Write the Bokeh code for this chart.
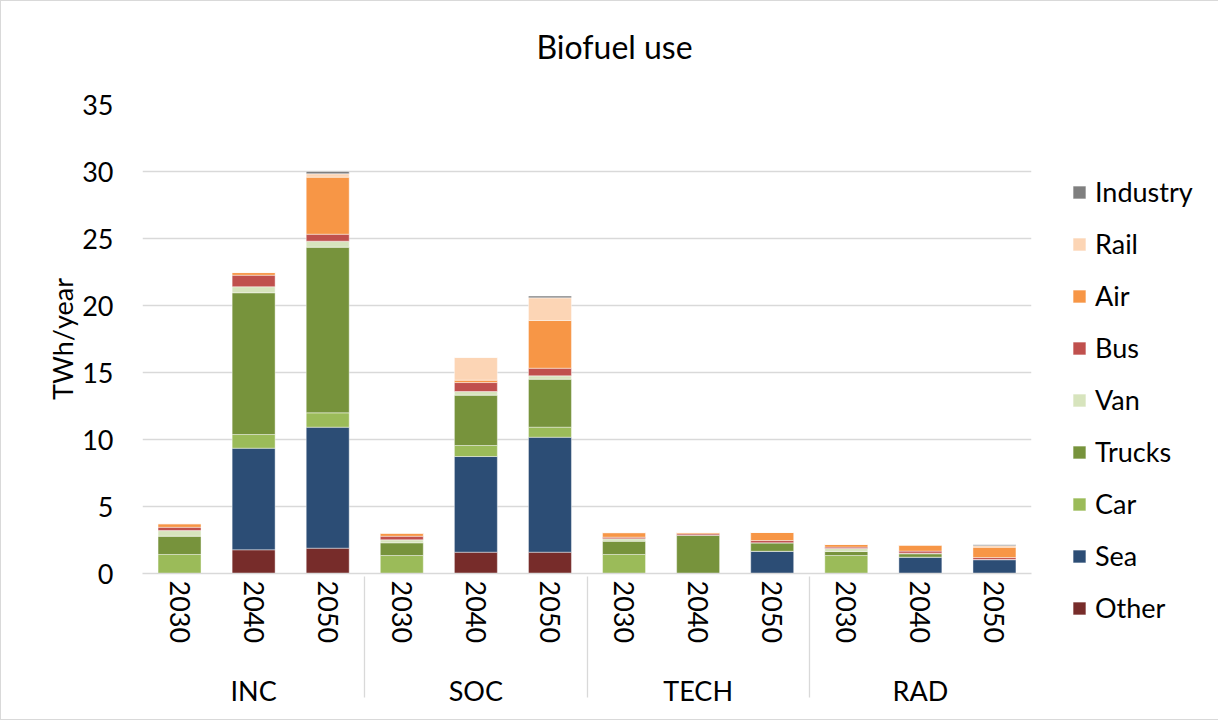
from bokeh.plotting import figure
from bokeh.models import FactorRange, Legend, LegendItem, ColumnDataSource, Title
from bokeh.embed import file_html
from bokeh.resources import INLINE

groups = ["INC", "SOC", "TECH", "RAD"]
years = ["2030", "2040", "2050"]
series = ["Other", "Sea", "Car", "Trucks", "Van", "Bus", "Air", "Rail", "Industry"]
colors = ["#772C2A", "#2C4D75", "#9BBB59", "#77933C", "#D7E4BD",
          "#C0504D", "#F79646", "#FCD5B5", "#7F7F7F"]

other    = [0, 1.77, 1.89,  0, 1.59, 1.59,  0, 0, 0,        0, 0, 0]
sea      = [0, 7.58, 9.03,  0, 7.14, 8.58,  0, 0, 1.66,     0, 1.22, 1.04]
car      = [1.42, 1.02, 1.07,  1.34, 0.82, 0.75,  1.42, 0, 0,  1.34, 0, 0]
trucks   = [1.36, 10.58, 12.36,  0.95, 3.76, 3.58,  0.99, 2.86, 0.63,  0.30, 0.25, 0]
van      = [0.42, 0.45, 0.45,  0.22, 0.27, 0.25,  0.18, 0, 0,  0.23, 0.05, 0]
bus      = [0.25, 0.86, 0.52,  0.27, 0.67, 0.57,  0.12, 0.10, 0.17,  0.10, 0.15, 0.15]
air      = [0.25, 0.20, 4.26,  0.22, 0.18, 3.56,  0.33, 0.10, 0.60,  0.20, 0.45, 0.77]
rail     = [0.03, 0, 0.25,  0.03, 1.69, 1.69,  0.02, 0, 0,  0, 0, 0.12]
industry = [0, 0, 0.17,  0, 0, 0.13,  0, 0, 0,  0, 0, 0.07]

FONT = "Lato"
# leading newline pushes the group label further below the year labels
factors = [("\n" + g, y) for g in groups for y in years]
data = dict(x=factors, Other=other, Sea=sea, Car=car, Trucks=trucks, Van=van,
            Bus=bus, Air=air, Rail=rail, Industry=industry)
source = ColumnDataSource(data)

p = figure(x_range=FactorRange(*factors, group_padding=0, range_padding=0),
           y_range=(0, 35), frame_width=889, frame_height=469,
           min_border_left=141, min_border_right=186, min_border_top=103,
           min_border_bottom=146, output_backend="svg", toolbar_location=None,
           title="Biofuel use")

renderers = p.vbar_stack(series, x="x", width=0.58, color=colors, source=source,
                         line_color="white", line_width=0.6, line_alpha=0.7)

p.title.align = "left"
p.title.offset = 394
p.title.text_font = FONT
p.title.text_font_size = "32px"
p.title.text_font_style = "normal"
p.title.text_color = "#000000"
p.title.standoff = 47

# thin empty spacer between the title and the plot area
spacer = Title(text=" ", text_font_size="1px", standoff=12)
p.add_layout(spacer, "above")

p.yaxis.ticker = [0, 5, 10, 15, 20, 25, 30, 35]
p.yaxis.axis_line_color = None
p.yaxis.major_tick_line_color = None
p.yaxis.minor_tick_line_color = None
p.yaxis.major_label_standoff = 23
p.yaxis.major_label_text_font = FONT
p.yaxis.major_label_text_font_size = "27px"
p.yaxis.major_label_text_color = "#000000"
p.yaxis.axis_label = "TWh/year"
p.yaxis.axis_label_text_font = FONT
p.yaxis.axis_label_text_font_size = "27px"
p.yaxis.axis_label_text_font_style = "normal"
p.yaxis.axis_label_text_color = "#000000"
p.yaxis.axis_label_standoff = 0

p.ygrid.grid_line_color = "#D9D9D9"
p.ygrid.grid_line_width = 1.3
p.xgrid.grid_line_color = None
p.outline_line_color = None

p.xaxis.axis_line_color = "#D9D9D9"
p.xaxis.axis_line_width = 1.3
p.xaxis.major_tick_line_color = None
p.xaxis.major_label_orientation = "vertical"
p.xaxis.major_label_text_font = FONT
p.xaxis.major_label_text_font_size = "27px"
p.xaxis.major_label_text_color = "#000000"
p.xaxis.major_label_standoff = 1
p.xaxis.group_text_font = FONT
p.xaxis.group_text_font_size = "27px"
p.xaxis.group_text_color = "#000000"
p.xaxis.group_text_font_style = "normal"
p.xaxis.group_text_line_height = 0.8
p.xaxis.separator_line_color = "#D9D9D9"
p.xaxis.separator_line_width = 1.3

items = [LegendItem(label=s, renderers=[r]) for s, r in zip(series, renderers)]
items.reverse()
legend = Legend(items=items, location=(40, -51), orientation="vertical",
                glyph_width=16, glyph_height=16, label_standoff=8,
                label_text_font=FONT, label_text_font_size="27px",
                label_text_color="#000000", label_height=28, spacing=19,
                padding=10, margin=0, border_line_color=None,
                background_fill_alpha=0)
p.add_layout(legend, "right")

p.styles = {"border": "1px solid #D9D9D9"}

open("out.html", "w").write(file_html(p, INLINE))
